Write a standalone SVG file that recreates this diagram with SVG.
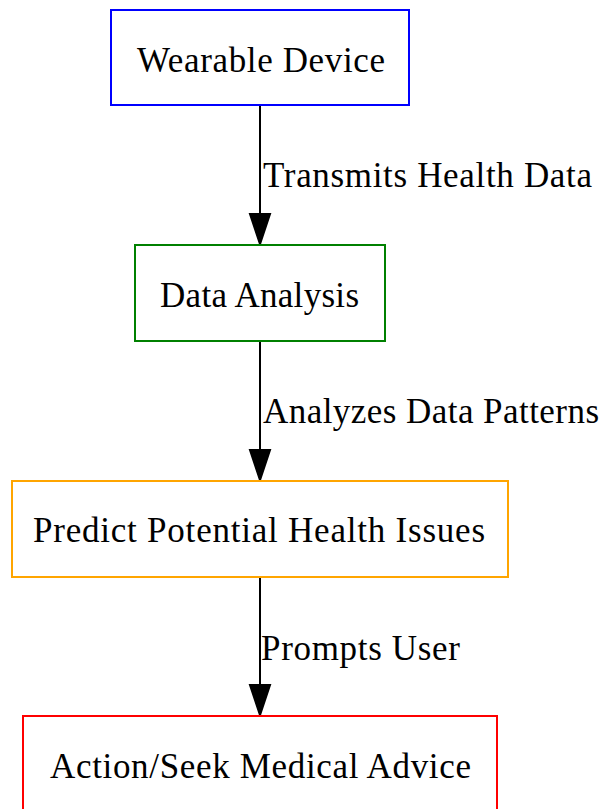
<svg xmlns="http://www.w3.org/2000/svg" width="604" height="809" viewBox="0 0 604 809">
<style>
.box{fill:#fff;stroke-width:2}
.t{font-family:"Liberation Serif","Times New Roman",serif;font-size:35px;fill:#000}
.e{stroke:#000;stroke-width:2;fill:none}
.ah{fill:#000;stroke:#000;stroke-width:2}
</style>
<rect width="604" height="809" fill="#fff"/>
<g id="connectors">
<g id="e1"><line class="e" x1="260" y1="105" x2="260" y2="215"/><polygon class="ah" points="250,214 270,214 260,244"/><text class="t" x="263" y="187" textLength="329" lengthAdjust="spacing">Transmits Health Data</text></g>
<g id="e2"><line class="e" x1="260" y1="341" x2="260" y2="451"/><polygon class="ah" points="250,450 270,450 260,480"/><text class="t" x="263" y="423" textLength="336" lengthAdjust="spacing">Analyzes Data Patterns</text></g>
<g id="e3"><line class="e" x1="260" y1="577" x2="260" y2="686"/><polygon class="ah" points="250,685 270,685 260,715"/><text class="t" x="261" y="660" textLength="199" lengthAdjust="spacing">Prompts User</text></g>
</g>
<g id="n1"><rect class="box" x="111" y="10" width="298" height="95" stroke="#0000ff"/><text class="t" x="137" y="72" textLength="248" lengthAdjust="spacing">Wearable Device</text></g>
<g id="n2"><rect class="box" x="135" y="245" width="250" height="96" stroke="#008000"/><text class="t" x="160" y="307" textLength="199" lengthAdjust="spacing">Data Analysis</text></g>
<g id="n3"><rect class="box" x="12" y="481" width="496" height="96" stroke="#ffa500"/><text class="t" x="33" y="542" textLength="452" lengthAdjust="spacing">Predict Potential Health Issues</text></g>
<g id="n4"><rect class="box" x="23" y="716" width="474" height="96" stroke="#ff0000"/><text class="t" x="50" y="778" textLength="421" lengthAdjust="spacing">Action/Seek Medical Advice</text></g>
</svg>
